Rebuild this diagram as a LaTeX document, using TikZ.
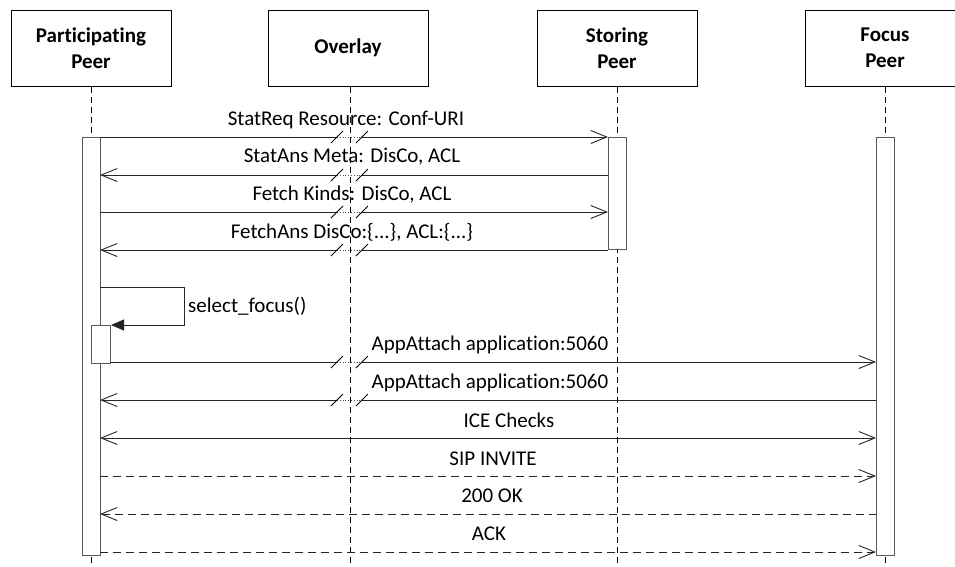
\documentclass[tikz,border=0pt]{standalone}
\usepackage{fontspec}
\setmainfont[Ligatures=NoCommon]{Carlito}
\usetikzlibrary{arrows.meta,calc}
\begin{document}
\begin{tikzpicture}[x=1pt,y=-1pt,
  head/.style={draw, line width=1pt, minimum width=160pt, minimum height=76pt, align=center, inner sep=0pt,
    font=\bfseries\fontsize{21}{26}\selectfont},
  life/.style={dash pattern=on 6pt off 4pt, line width=0.8pt},
  bar/.style={draw=black!65, fill=white, line width=1pt},
  msg/.style={line width=0.9pt, draw=black!85},
  dmsg/.style={msg, dash pattern=on 8pt off 5pt},
  oar/.style={-{Straight Barb[length=16pt,width=13pt,line width=0.9pt]}},
  oal/.style={{Straight Barb[length=16pt,width=13pt,line width=0.9pt]}-},
  oab/.style={{Straight Barb[length=16pt,width=13pt,line width=0.9pt]}-{Straight Barb[length=16pt,width=13pt,line width=0.9pt]}},
  fa/.style={-{Triangle[length=13pt,width=11pt]}},
  lbl/.style={font=\fontsize{21}{24}\selectfont, inner sep=0pt},
  brk/.style={dotted, line width=0.8pt, draw=black!70},
  sl/.style={line width=0.8pt}
]
\useasboundingbox (0,0) rectangle (955,566);

% heads
\node[head] (pp) at (91,48) {Participating\\Peer};
\node[head] (ov) at (348,48) {Overlay};
\node[head] (sp) at (617,48) {Storing\\Peer};
\node[head] (fp) at (885,48) {Focus\\Peer};

% lifelines
\coordinate (ppe) at (91,566);
\coordinate (ove) at (350,566);
\coordinate (spe) at (617,566);
\coordinate (fpe) at (885,566);
\draw[life] (pp.south) -- (ppe);
\draw[life] (ov.south -| ove) -- (ove);
\draw[life] (sp.south) -- (spe);
\draw[life] (fp.south) -- (fpe);

% activation bars
\node[bar, minimum width=18pt, minimum height=418pt, inner sep=0pt, anchor=north west] (ppbar) at (82,137) {};
\node[bar, minimum width=18pt, minimum height=112pt, inner sep=0pt, anchor=north west] (spbar) at (608,137) {};
\node[bar, minimum width=18pt, minimum height=418pt, inner sep=0pt, anchor=north west] (fpbar) at (876,137) {};

% messages 1-4
\foreach \y/\dir in {137/r,175/l,212/r,250/l}{
  \coordinate (L) at (100,\y);
  \coordinate (R) at (608,\y);
  \coordinate (b1) at (337,\y);
  \coordinate (b2) at (362,\y);
  \if\dir r
    \draw[msg] (L) -- (b1);
    \draw[msg,oar] (b2) -- (R);
  \else
    \draw[msg,oal] (L) -- (b1);
    \draw[msg] (b2) -- (R);
  \fi
  \draw[brk] (b1) -- (b2);
  \draw[sl] ($(b1)+(-6,6)$) -- ($(b1)+(6,-6)$);
  \draw[sl] ($(b2)+(-6,6)$) -- ($(b2)+(6,-6)$);
}
\node[lbl] (m1) at (346,120) {StatReq Resource: Conf-URI};
\node[lbl] (m2) at (352,157) {StatAns Meta: DisCo, ACL};
\node[lbl] (m3) at (352,195) {Fetch Kinds: DisCo, ACL};
\node[lbl] (m4) at (352,232) {FetchAns DisCo:\{...\}, ACL:\{...\}};

% self call
\node[bar, minimum width=19pt, minimum height=38pt, inner sep=0pt, anchor=north west] (sbar) at (91,325) {};
\coordinate (s0) at (100,287);
\coordinate (s1) at (184,287);
\coordinate (s2) at (184,325);
\draw[msg,fa] (s0) -- (s1) -- (s2) -- (sbar.north east);
\node[lbl, anchor=west] (sf) at (188,306) {select\_focus()};

% AppAttach
\foreach \y/\dir/\xl in {362/r/110,400/l/100}{
  \coordinate (L) at (\xl,\y);
  \coordinate (R) at (876,\y);
  \coordinate (b1) at (337,\y);
  \coordinate (b2) at (362,\y);
  \if\dir r
    \draw[msg] (L) -- (b1);
    \draw[msg,oar] (b2) -- (R);
  \else
    \draw[msg,oal] (L) -- (b1);
    \draw[msg] (b2) -- (R);
  \fi
  \draw[brk] (b1) -- (b2);
  \draw[sl] ($(b1)+(-6,6)$) -- ($(b1)+(6,-6)$);
  \draw[sl] ($(b2)+(-6,6)$) -- ($(b2)+(6,-6)$);
}
\node[lbl] (m5) at (490,345) {AppAttach application:5060};
\node[lbl] (m6) at (490,383) {AppAttach application:5060};

% ICE, SIP
\coordinate (i1) at (100,438); \coordinate (i2) at (876,438);
\draw[msg,oab] (i1) -- (i2);
\node[lbl] (m7) at (509,420) {ICE Checks};
\coordinate (s1a) at (100,476); \coordinate (s1b) at (876,476);
\draw[dmsg,oar] (s1a) -- (s1b);
\node[lbl] (m8) at (493,459) {SIP INVITE};
\coordinate (o1) at (100,514); \coordinate (o2) at (876,514);
\draw[dmsg,oal] (o1) -- (o2);
\node[lbl] (m9) at (492,496) {200 OK};
\coordinate (a1) at (100,552); \coordinate (a2) at (876,552);
\draw[dmsg,oar] (a1) -- (a2);
\node[lbl] (m10) at (489,534) {ACK};
\end{tikzpicture}
\end{document}
